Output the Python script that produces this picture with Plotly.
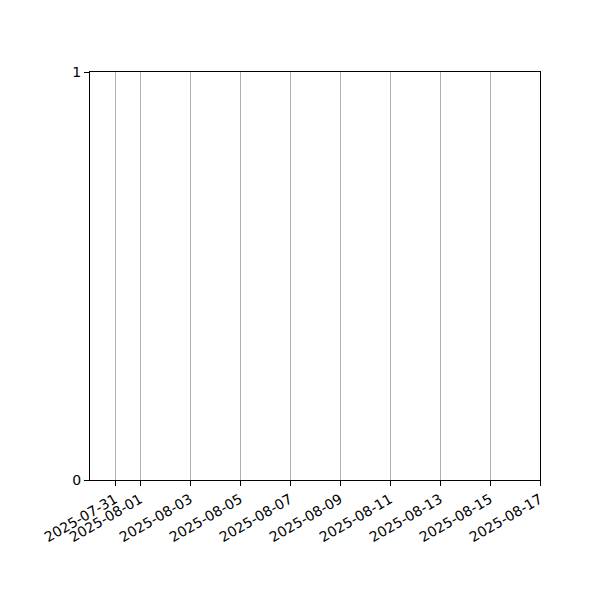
import plotly.graph_objects as go

# Data (empty series, as in the reference)
dates = []
values = []

x_tick_dates = ["2025-07-31", "2025-08-01", "2025-08-03", "2025-08-05", "2025-08-07",
                "2025-08-09", "2025-08-11", "2025-08-13", "2025-08-15", "2025-08-17"]
y_tick_values = [0, 1]
x_range = ["2025-07-30", "2025-08-17"]
y_range = [0, 1]

fig = go.Figure()
fig.add_trace(go.Scatter(x=dates, y=values, mode="lines", showlegend=False))

fig.update_layout(
    width=600, height=600,
    margin=dict(l=82, r=68, t=64, b=128, pad=0),
    paper_bgcolor="white", plot_bgcolor="white",
    font=dict(family="DejaVu Sans", size=14, color="black"),
    showlegend=False,
)
fig.update_xaxes(
    type="date", range=x_range,
    tickmode="array", tickvals=x_tick_dates, ticktext=x_tick_dates,
    tickangle=-30,
    showgrid=True, gridcolor="#b0b0b0", gridwidth=1,
    showline=True, linecolor="black", linewidth=1, mirror=True,
    ticks="outside", ticklen=5, tickcolor="black", tickwidth=1,
    zeroline=False,
)
fig.update_yaxes(
    range=y_range, tickmode="array", tickvals=y_tick_values,
    showgrid=False,
    showline=True, linecolor="black", linewidth=1, mirror=True,
    ticks="outside", ticklen=5, tickcolor="black", tickwidth=1,
    zeroline=False,
)

fig.write_html("out.html", config={"displayModeBar": False})
